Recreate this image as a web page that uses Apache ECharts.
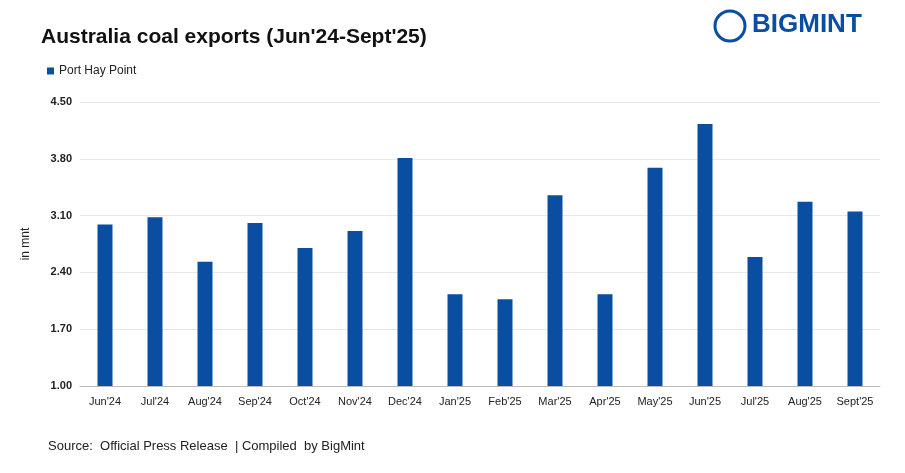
<!DOCTYPE html>
<html><head><meta charset="utf-8">
<script src="https://cdn.jsdelivr.net/npm/echarts@6/dist/echarts.min.js"></script>
<style>html,body{margin:0;padding:0;background:#fff}#c{width:905px;height:473px}</style>
</head><body><div id="c"></div>
<script>
const categories = ["Jun'24","Jul'24","Aug'24","Sep'24","Oct'24","Nov'24","Dec'24","Jan'25","Feb'25","Mar'25","Apr'25","May'25","Jun'25","Jul'25","Aug'25","Sept'25"];
const portHayPoint = [2.99,3.08,2.53,3.01,2.70,2.91,3.81,2.13,2.07,3.35,2.13,3.69,4.23,2.59,3.27,3.15];
const yTicks = [1.00,1.70,2.40,3.10,3.80,4.50];
const chart = echarts.init(document.getElementById('c'));
const F = 'Liberation Sans, Arial, sans-serif';
chart.setOption({
  animation:false,
  title:{text:"Australia coal exports (Jun'24-Sept'25)",left:36,top:22,textStyle:{fontFamily:F,fontSize:21,fontWeight:'bold',color:'#111'}},
  legend:{left:42,top:60,itemWidth:7,itemHeight:7,icon:'rect',itemGap:5,textStyle:{fontFamily:F,fontSize:12,color:'#222'},data:['Port Hay Point']},
  grid:{left:80,right:25,top:102,bottom:87},
  xAxis:{type:'category',data:categories,axisTick:{show:false},axisLine:{lineStyle:{color:'#bbb'}},
    axisLabel:{interval:0,fontFamily:F,fontSize:11,color:'#222',margin:10}},
  yAxis:{type:'value',min:1.0,max:4.5,interval:0.7,name:'in mnt',nameLocation:'middle',nameGap:48,
    nameTextStyle:{fontFamily:F,fontSize:12,color:'#222'},
    axisLabel:{fontFamily:F,fontSize:11,fontWeight:'bold',color:'#222',formatter:v=>v.toFixed(2)},
    splitLine:{lineStyle:{color:'#e8e8e8'}}},
  series:[{name:'Port Hay Point',type:'bar',data:portHayPoint,barWidth:15,itemStyle:{color:'#0a4ea2'}}],
  graphic:[
    {type:'text',left:48,top:440,style:{text:'Source:  Official Press Release  | Compiled  by BigMint',font:'13px '+F,fill:'#222'}},
    {type:'circle',shape:{cx:730,cy:26,r:15},style:{fill:'none',stroke:'#0a4ea2',lineWidth:3}},
    {type:'text',left:752,top:12,style:{text:'BIGMINT',font:'bold 26px '+F,fill:'#0a4ea2'}}
  ]
});
</script></body></html>
